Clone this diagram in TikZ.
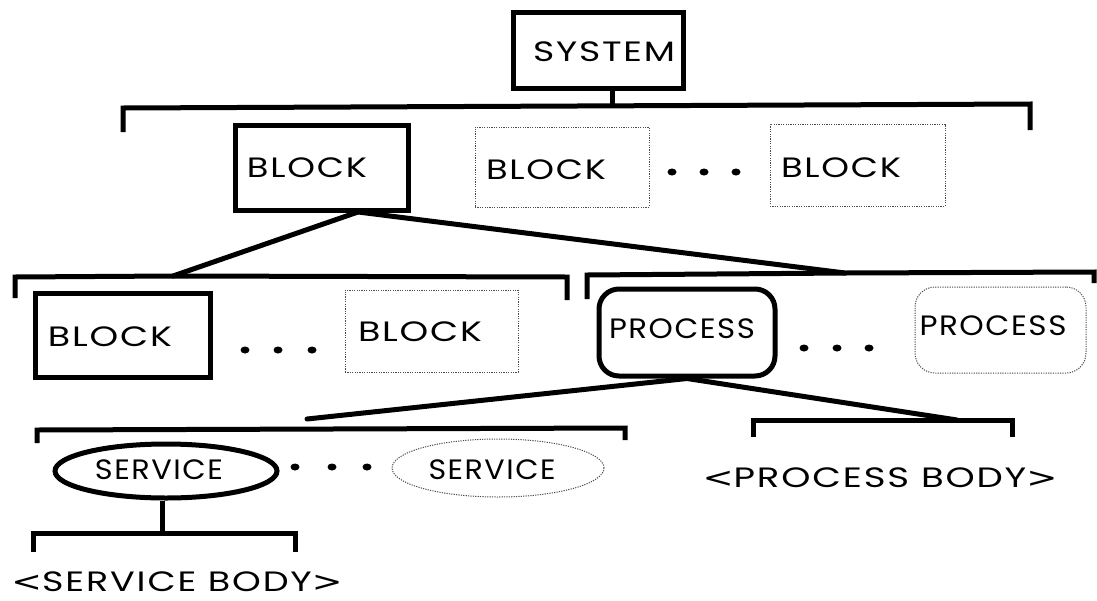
\documentclass[tikz,border=0pt]{standalone}
\usepackage{fontspec}
\setmainfont{Poppins}[LetterSpace=5]
\newfontfamily\brk{DejaVu Sans}[LetterSpace=5]
\usepackage{graphicx}
\usetikzlibrary{shapes.geometric}

% text stretched horizontally to a given width, height kept
\newcommand{\wtext}[2]{\resizebox{#1}{\height}{#2}}

\tikzset{
  solidbox/.style={draw, line width=5pt, inner sep=0pt},
  dotbox/.style={draw=black!70, line width=1pt, dash pattern=on 1.2pt off 1.2pt, inner sep=0pt},
  lbl/.style={inner sep=0pt, font=\fontsize{28}{28}\selectfont},
  tree/.style={line width=5pt},
  branch/.style={line width=5pt, line cap=round},
}

\begin{document}
\begin{tikzpicture}[x=1pt, y=-1pt]
\useasboundingbox (0,0) rectangle (1097,600);

% ---------- level 0 ----------
\node[solidbox, rectangle, minimum width=170pt, minimum height=76pt] (sys) at (598,50) {};
\node[lbl] (sysT) at (604,52) {\wtext{142pt}{SYSTEM}};

% top bracket
\coordinate (b0l) at (123,132);
\coordinate (b0a) at (123,108);
\coordinate (b0m) at (612,106);
\coordinate (b0b) at (1030,104);
\coordinate (b0r) at (1030,130);
\draw[tree] (b0l) -- (b0a) -- (b0b) -- (b0r);
\draw[tree] (sys.south -| b0m) -- (b0m);

% ---------- level 1 ----------
\node[solidbox, rectangle, minimum width=173pt, minimum height=85pt] (blkA) at (321.5,167.5) {};
\node[lbl] (blkAT) at (307,168) {\wtext{120pt}{BLOCK}};

\node[dotbox, rectangle, minimum width=174pt, minimum height=80pt] (blkB) at (562,167) {};
\node[lbl] (blkBT) at (546,170) {\wtext{120pt}{BLOCK}};

\fill (672,172) ellipse [x radius=4.5, y radius=3.5];
\fill (704,172) ellipse [x radius=4.5, y radius=3.5];
\fill (736,172) ellipse [x radius=4.5, y radius=3.5];

\node[dotbox, rectangle, minimum width=175pt, minimum height=82pt] (blkC) at (857.5,165) {};
\node[lbl] (blkCT) at (841,168) {\wtext{120pt}{BLOCK}};

% branches from the selected block
\coordinate (bA) at (358,212);
\coordinate (l2) at (173,276);
\coordinate (r2) at (845,273);
\draw[branch] (bA) -- (l2);
\draw[branch] (bA) -- (r2);

% ---------- level 2 ----------
\draw[tree] (15,298) -- (15,277) -- (l2) -- (567,277) -- (567,300);
\draw[tree] (587,299) -- (587,275) -- (r2) -- (1094,272) -- (1094,283);

\node[solidbox, rectangle, minimum width=175pt, minimum height=84pt] (blkD) at (122.5,335) {};
\node[lbl] (blkDT) at (110,337) {\wtext{124pt}{BLOCK}};

\fill (245,350) ellipse [x radius=4.5, y radius=3.5];
\fill (278,350) ellipse [x radius=4.5, y radius=3.5];
\fill (312,350) ellipse [x radius=4.5, y radius=3.5];

\node[dotbox, rectangle, minimum width=173pt, minimum height=82pt] (blkE) at (431.5,331) {};
\node[lbl] (blkET) at (420,332) {\wtext{124pt}{BLOCK}};

\node[solidbox, rectangle, rounded corners=20pt, minimum width=176pt, minimum height=87pt] (proc) at (687,332.5) {};
\node[lbl] (procT) at (682,329) {\wtext{146pt}{PROCESS}};

\fill (804,348) ellipse [x radius=4.5, y radius=3.5];
\fill (837,348) ellipse [x radius=4.5, y radius=3.5];
\fill (869,348) ellipse [x radius=4.5, y radius=3.5];

\node[dotbox, rectangle, rounded corners=20pt, minimum width=171pt, minimum height=86pt] (procB) at (1000.5,330) {};
\node[lbl] (procBT) at (993,326) {\wtext{147pt}{PROCESS}};

% branches from the selected process
\coordinate (l3) at (307,419);
\coordinate (r3) at (957,420);
\draw[branch] (proc.south) -- (l3);
\draw[branch] (proc.south) -- (r3);

% ---------- level 3 ----------
\draw[tree] (37,443) -- (37,430) -- (625,428) -- (625,440);
\draw[tree] (753,437) -- (753,420) -- (r3) -- (1012,420) -- (1012,437);

\node[solidbox, ellipse, minimum width=222pt, minimum height=54pt] (svc) at (166,471) {};
\node[lbl] (svcT) at (159,470) {\wtext{128pt}{SERVICE}};

\fill (295,467) ellipse [x radius=4.5, y radius=3.5];
\fill (332,467) ellipse [x radius=4.5, y radius=3.5];
\fill (367,467) ellipse [x radius=4.5, y radius=3.5];

\node[dotbox, ellipse, minimum width=212pt, minimum height=58pt] (svcB) at (498,468) {};
\node[lbl] (svcBT) at (492,470) {\wtext{127pt}{SERVICE}};

\node[lbl] (pbody) at (880,478) {\wtext{355pt}{{\brk<}PROCESS BODY{\brk>}}};

% service body bracket
\coordinate (sv) at (162,533);
\draw[tree] (svc.south -| sv) -- (sv);
\draw[tree] (33,552) -- (33,533) -- (sv) -- (295,533) -- (295,552);

\node[lbl] (sbody) at (177,582) {\wtext{331pt}{{\brk<}SERVICE BODY{\brk>}}};

\end{tikzpicture}
\end{document}
